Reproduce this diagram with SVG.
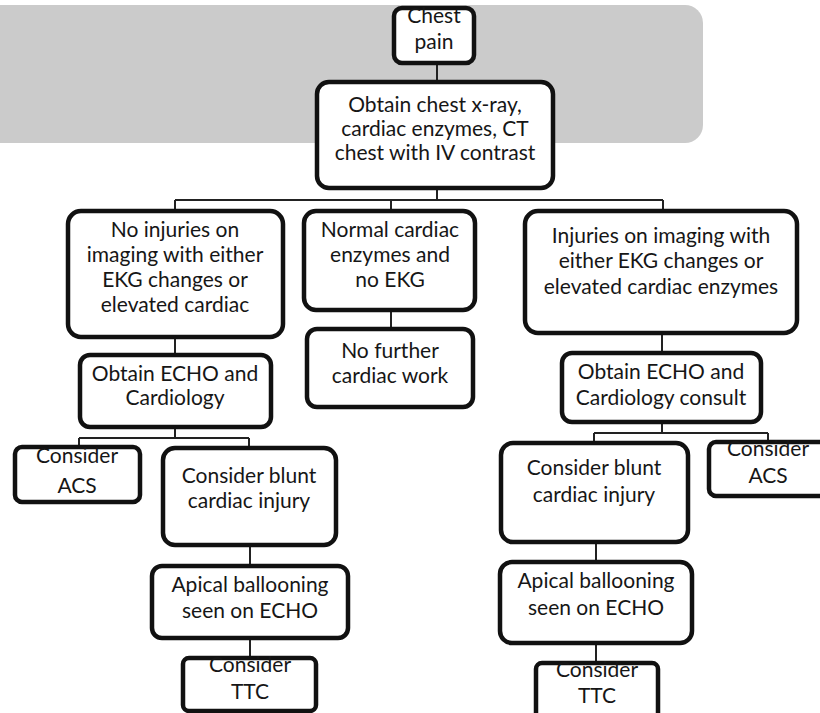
<svg xmlns="http://www.w3.org/2000/svg" width="820" height="713" viewBox="0 0 820 713">
<style>
.box{fill:#fff;stroke:#111;stroke-width:4.5}
.t{font-family:Lato,"Liberation Sans",sans-serif;font-size:21px;fill:#161616;text-anchor:middle}
.c{fill:none;stroke:#222;stroke-width:2}
</style>
<rect width="820" height="713" fill="#fff"/>
<rect id="band" x="-30" y="5" width="733" height="138" rx="18" fill="#cbcbcb"/>
<g id="connectors" class="c">
<path d="M437 63V82"/>
<path d="M437 189V200M175 200H663M175 200V211M391 200V211M663 200V211"/>
<path d="M391 310V329"/>
<path d="M175 337V354"/>
<path d="M175 427V438M79 438H249M79 438V446M249 438V447"/>
<path d="M250 545V565M250 638V657"/>
<path d="M662 333V352"/>
<path d="M662 422V433M594 433H768M594 433V442M768 433V442"/>
<path d="M596 542V561M596 643V662"/>
</g>
<g id="chest-pain"><rect class="box" x="394" y="8" width="80" height="55" rx="8"/><text class="t" x="434" y="23">Chest</text><text class="t" x="434" y="49">pain</text></g>
<g id="obtain-tests"><rect class="box" x="317" y="82" width="236" height="106" rx="12"/><text class="t" x="435" y="112">Obtain chest x-ray,</text><text class="t" x="435" y="136">cardiac enzymes, CT</text><text class="t" x="435" y="160">chest with IV contrast</text></g>
<g id="no-injuries"><rect class="box" x="68" y="211" width="215" height="126" rx="13"/><text class="t" x="175" y="237">No injuries on</text><text class="t" x="175" y="262">imaging with either</text><text class="t" x="175" y="287">EKG changes or</text><text class="t" x="175" y="312">elevated cardiac</text></g>
<g id="normal-enzymes"><rect class="box" x="304" y="211" width="171" height="99" rx="12"/><text class="t" x="390" y="237">Normal cardiac</text><text class="t" x="390" y="262">enzymes and</text><text class="t" x="390" y="287">no EKG</text></g>
<g id="no-further"><rect class="box" x="307" y="329" width="166" height="78" rx="10"/><text class="t" x="390" y="358">No further</text><text class="t" x="390" y="383">cardiac work</text></g>
<g id="injuries"><rect class="box" x="525" y="211" width="272" height="122" rx="13"/><text class="t" x="661" y="243">Injuries on imaging with</text><text class="t" x="661" y="268">either EKG changes or</text><text class="t" x="661" y="294">elevated cardiac enzymes</text></g>
<g id="echo-left"><rect class="box" x="80" y="355" width="191" height="72" rx="10"/><text class="t" x="175" y="381">Obtain ECHO and</text><text class="t" x="175" y="405">Cardiology</text></g>
<g id="echo-right"><rect class="box" x="562" y="353" width="199" height="69" rx="10"/><text class="t" x="661" y="379">Obtain ECHO and</text><text class="t" x="661" y="405">Cardiology consult</text></g>
<g id="acs-left"><rect class="box" x="15" y="447" width="125" height="55" rx="7"/><text class="t" x="77" y="463">Consider</text><text class="t" x="77" y="493">ACS</text></g>
<g id="blunt-left"><rect class="box" x="163" y="448" width="173" height="97" rx="12"/><text class="t" x="249" y="483">Consider blunt</text><text class="t" x="249" y="508">cardiac injury</text></g>
<g id="blunt-right"><rect class="box" x="501" y="443" width="187" height="99" rx="12"/><text class="t" x="594" y="475">Consider blunt</text><text class="t" x="594" y="502">cardiac injury</text></g>
<g id="acs-right"><rect class="box" x="709" y="442" width="120" height="54" rx="7"/><text class="t" x="768" y="456">Consider</text><text class="t" x="768" y="483">ACS</text></g>
<g id="apical-left"><rect class="box" x="152" y="566" width="196" height="72" rx="10"/><text class="t" x="250" y="592">Apical ballooning</text><text class="t" x="250" y="618">seen on ECHO</text></g>
<g id="apical-right"><rect class="box" x="500" y="562" width="192" height="81" rx="12"/><text class="t" x="596" y="588">Apical ballooning</text><text class="t" x="596" y="615">seen on ECHO</text></g>
<g id="ttc-left"><rect class="box" x="183" y="658" width="133" height="53" rx="6"/><text class="t" x="250" y="672">Consider</text><text class="t" x="250" y="699">TTC</text></g>
<g id="ttc-right"><rect class="box" x="536" y="663" width="122" height="60" rx="6"/><text class="t" x="597" y="677">Consider</text><text class="t" x="597" y="703">TTC</text></g>
</svg>
